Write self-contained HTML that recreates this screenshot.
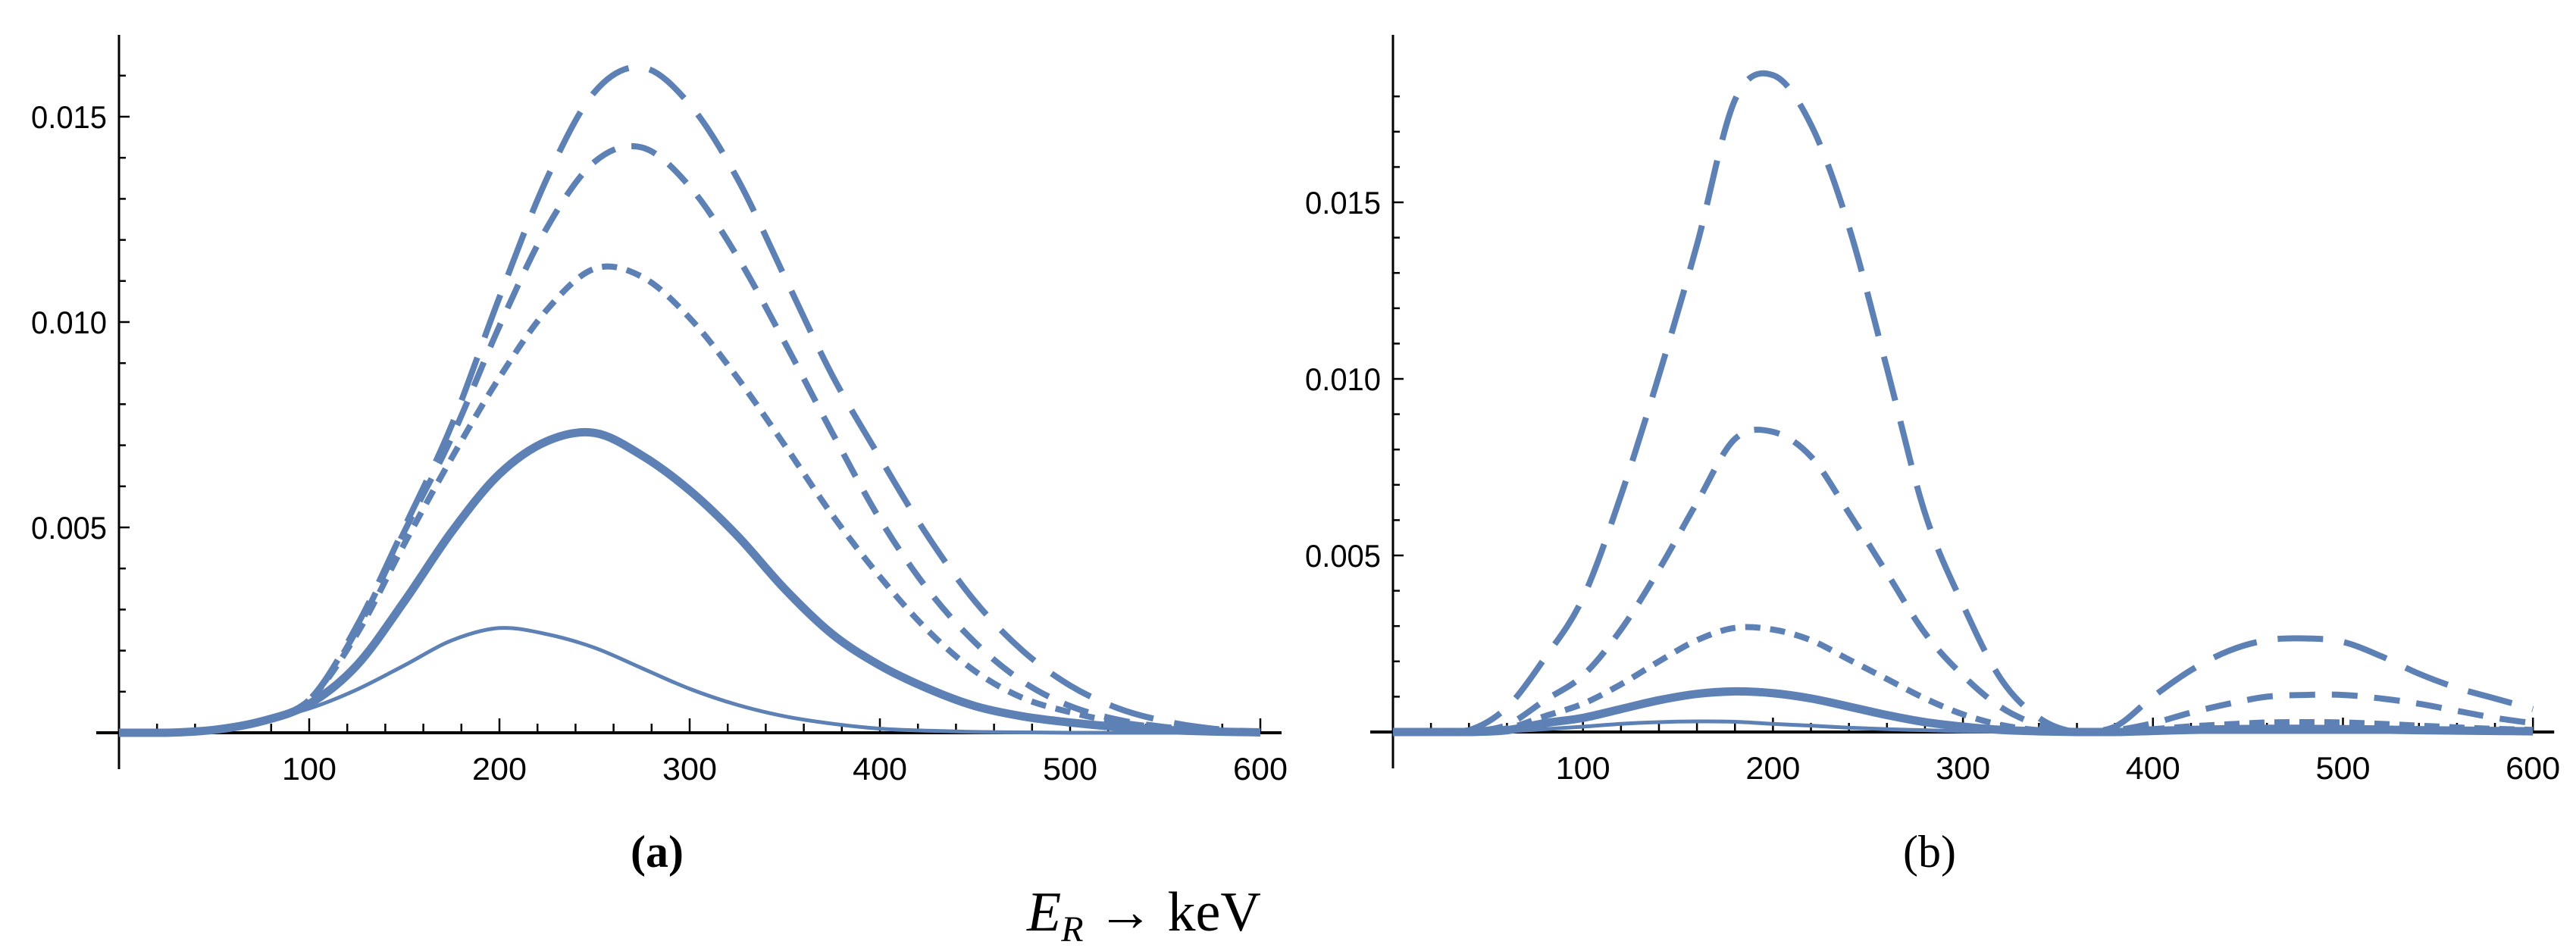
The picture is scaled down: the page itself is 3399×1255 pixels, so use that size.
<!DOCTYPE html>
<html><head><meta charset="utf-8"><style>
html,body{margin:0;padding:0;background:#fff;}
svg{display:block;}
.tick{font-family:"Liberation Sans",sans-serif;font-size:42px;fill:#000;}
</style></head>
<body>
<svg id="chart" width="3399" height="1255" viewBox="0 0 3399 1255" xmlns="http://www.w3.org/2000/svg">
<text x="867" y="1144" text-anchor="middle" font-family="Liberation Serif, serif" font-weight="bold" font-size="60">(a)</text>
<text x="2546" y="1144" text-anchor="middle" font-family="Liberation Serif, serif" font-size="60">(b)</text>
<text x="1355" y="1228" font-family="Liberation Serif, serif" font-size="74"><tspan font-style="italic">E</tspan><tspan font-style="italic" font-size="48" dy="14">R</tspan><tspan dy="-14"> → keV</tspan></text>
</svg>
<script>
const xsA = [0,25,50,75,100,125,150,175,200,225,250,275,300,325,350,375,400,425,450,475,500,525,550,575,600];
const longA  = [0,0,0.07,0.3,0.8,2.6,5.0,7.5,10.6,13.5,15.6,16.2,15.3,13.5,11.1,8.7,6.7,4.8,3.2,2.0,1.15,0.6,0.28,0.1,0.02];
const medA   = [0,0,0.07,0.3,0.8,2.5,4.9,7.2,9.9,12.3,13.9,14.25,13.3,11.6,9.5,7.3,5.2,3.5,2.2,1.25,0.65,0.32,0.14,0.05,0.01];
const shortA = [0,0,0.07,0.3,0.8,2.4,4.6,6.7,8.65,10.3,11.3,11.1,10.1,8.65,7.0,5.3,3.8,2.5,1.5,0.85,0.5,0.26,0.12,0.04,0.01];
const thickA = [0,0,0.07,0.28,0.7,1.64,3.2,4.9,6.3,7.1,7.3,6.75,5.9,4.8,3.5,2.4,1.64,1.08,0.65,0.4,0.25,0.14,0.07,0.03,0.01];
const thinA  = [0,0,0.1,0.3,0.59,1.05,1.64,2.25,2.55,2.4,2.07,1.57,1.07,0.68,0.4,0.22,0.1,0.05,0.02,0.01,0,0,0,0,0];
const xsB = [0,20,40,60,80,100,120,140,160,180,200,220,240,260,280,300,320,340,360,380,400,420,440,460,480,500,520,540,560,580,600];
const longB  = [0,0,0.05,0.7,2.1,3.8,6.7,10.1,13.8,17.9,18.6,17.2,14.3,10.3,6.2,3.6,1.5,0.4,0,0.15,1.0,1.75,2.3,2.6,2.65,2.55,2.15,1.65,1.25,0.95,0.65];
const medB   = [0,0,0.02,0.2,0.9,1.6,2.9,4.6,6.5,8.3,8.5,7.8,6.2,4.5,2.8,1.6,0.7,0.2,0,0.05,0.25,0.55,0.8,1.0,1.05,1.05,0.95,0.8,0.6,0.4,0.25];
const shortB = [0,0,0.01,0.1,0.45,0.8,1.35,2.0,2.6,2.95,2.9,2.6,2.05,1.5,0.95,0.5,0.2,0.05,0,0.02,0.08,0.16,0.22,0.27,0.28,0.27,0.23,0.18,0.13,0.09,0.06];
const thickB = [0,0,0,0.05,0.25,0.4,0.65,0.9,1.08,1.15,1.1,0.95,0.72,0.48,0.28,0.15,0.06,0.02,0,0,0.03,0.06,0.08,0.09,0.09,0.08,0.07,0.05,0.04,0.03,0.02];
const thinB  = [0,0,0,0.02,0.08,0.15,0.23,0.28,0.3,0.29,0.23,0.18,0.12,0.08,0.05,0.02,0.01,0,0,0,0,0,0,0,0,0,0,0,0,0,0];
const xTickLabels = ["100","200","300","400","500","600"];
const yTickLabels = ["0.005","0.010","0.015"];

const NS = "http://www.w3.org/2000/svg";
const svg = document.getElementById("chart");
const COLOR = "#5e81b5";
function el(tag, attrs){const e=document.createElementNS(NS,tag);for(const k in attrs)e.setAttribute(k,attrs[k]);svg.appendChild(e);return e;}

function panel(id, x0, pxPer100, y0, pxPer005, yMaxMilli, xs, series){
  const sx = v => x0 + v*pxPer100/100;
  const sy = v => y0 - v*pxPer005/5;
  const xa = el("line",{x1:x0-30,y1:y0,x2:sx(600)+28,y2:y0,stroke:"#000","stroke-width":4});
  
  
  const ya = el("line",{x1:x0,y1:y0+48,x2:x0,y2:46,stroke:"#000","stroke-width":3});
  
  
  for(let v=20; v<=600; v+=20){
    const major = v%100===0;
    const t = el("line",{x1:sx(v),y1:y0,x2:sx(v),y2:y0-(major?19:12),stroke:"#000","stroke-width":2.5});
    
    
  }
  xTickLabels.forEach(l=>{
    const t = el("text",{x:sx(+l),y:y0+62,"text-anchor":"middle",class:"tick",textLength:72,lengthAdjust:"spacingAndGlyphs"});
    t.textContent = l;
    
    
  });
  for(let m=1; m<=yMaxMilli; m++){
    const major = m%5===0;
    const t = el("line",{x1:x0,y1:sy(m),x2:x0+(major?14:9),y2:sy(m),stroke:"#000","stroke-width":2.5});
    
    
  }
  yTickLabels.forEach(l=>{
    const t = el("text",{x:x0-16,y:sy(parseFloat(l)*1000)+15,"text-anchor":"end",class:"tick",textLength:100,lengthAdjust:"spacingAndGlyphs"});
    t.textContent = l;
    
    
  });
  series.forEach(s=>{
    const pts = xs.map((x,i)=>[sx(x), sy(s.vals[i])]);
    let d = "M"+pts[0][0]+","+pts[0][1];
    for(let i=0;i<pts.length-1;i++){
      const p0=pts[Math.max(0,i-1)],p1=pts[i],p2=pts[i+1],p3=pts[Math.min(pts.length-1,i+2)];
      const c1x=p1[0]+(p2[0]-p0[0])/6, c1y=Math.min(y0,p1[1]+(p2[1]-p0[1])/6);
      const c2x=p2[0]-(p3[0]-p1[0])/6, c2y=Math.min(y0,p2[1]-(p3[1]-p1[1])/6);
      d += ` C${c1x},${c1y} ${c2x},${c2y} ${p2[0]},${p2[1]}`;
    }
    const p = el("path",{d:d,fill:"none",stroke:COLOR,"stroke-width":s.w,"stroke-dasharray":s.dash||"none","stroke-linejoin":"round"});
    
    
  });
}

panel("panel-a",157,251,967,271,16,xsA,[
  {name:"thin-solid-curve",vals:thinA,w:5},
  {name:"thick-solid-curve",vals:thickA,w:11},
  {name:"short-dashed-curve",vals:shortA,w:8,dash:"20 13"},
  {name:"medium-dashed-curve",vals:medA,w:8,dash:"34 22"},
  {name:"long-dashed-curve",vals:longA,w:8,dash:"60 28"}
]);
panel("panel-b",1838,250.7,966,233,18,xsB,[
  {name:"thin-solid-curve",vals:thinB,w:5},
  {name:"thick-solid-curve",vals:thickB,w:11},
  {name:"short-dashed-curve",vals:shortB,w:8,dash:"20 13"},
  {name:"medium-dashed-curve",vals:medB,w:8,dash:"34 22"},
  {name:"long-dashed-curve",vals:longB,w:8,dash:"60 28"}
]);
</script>
</body></html>
